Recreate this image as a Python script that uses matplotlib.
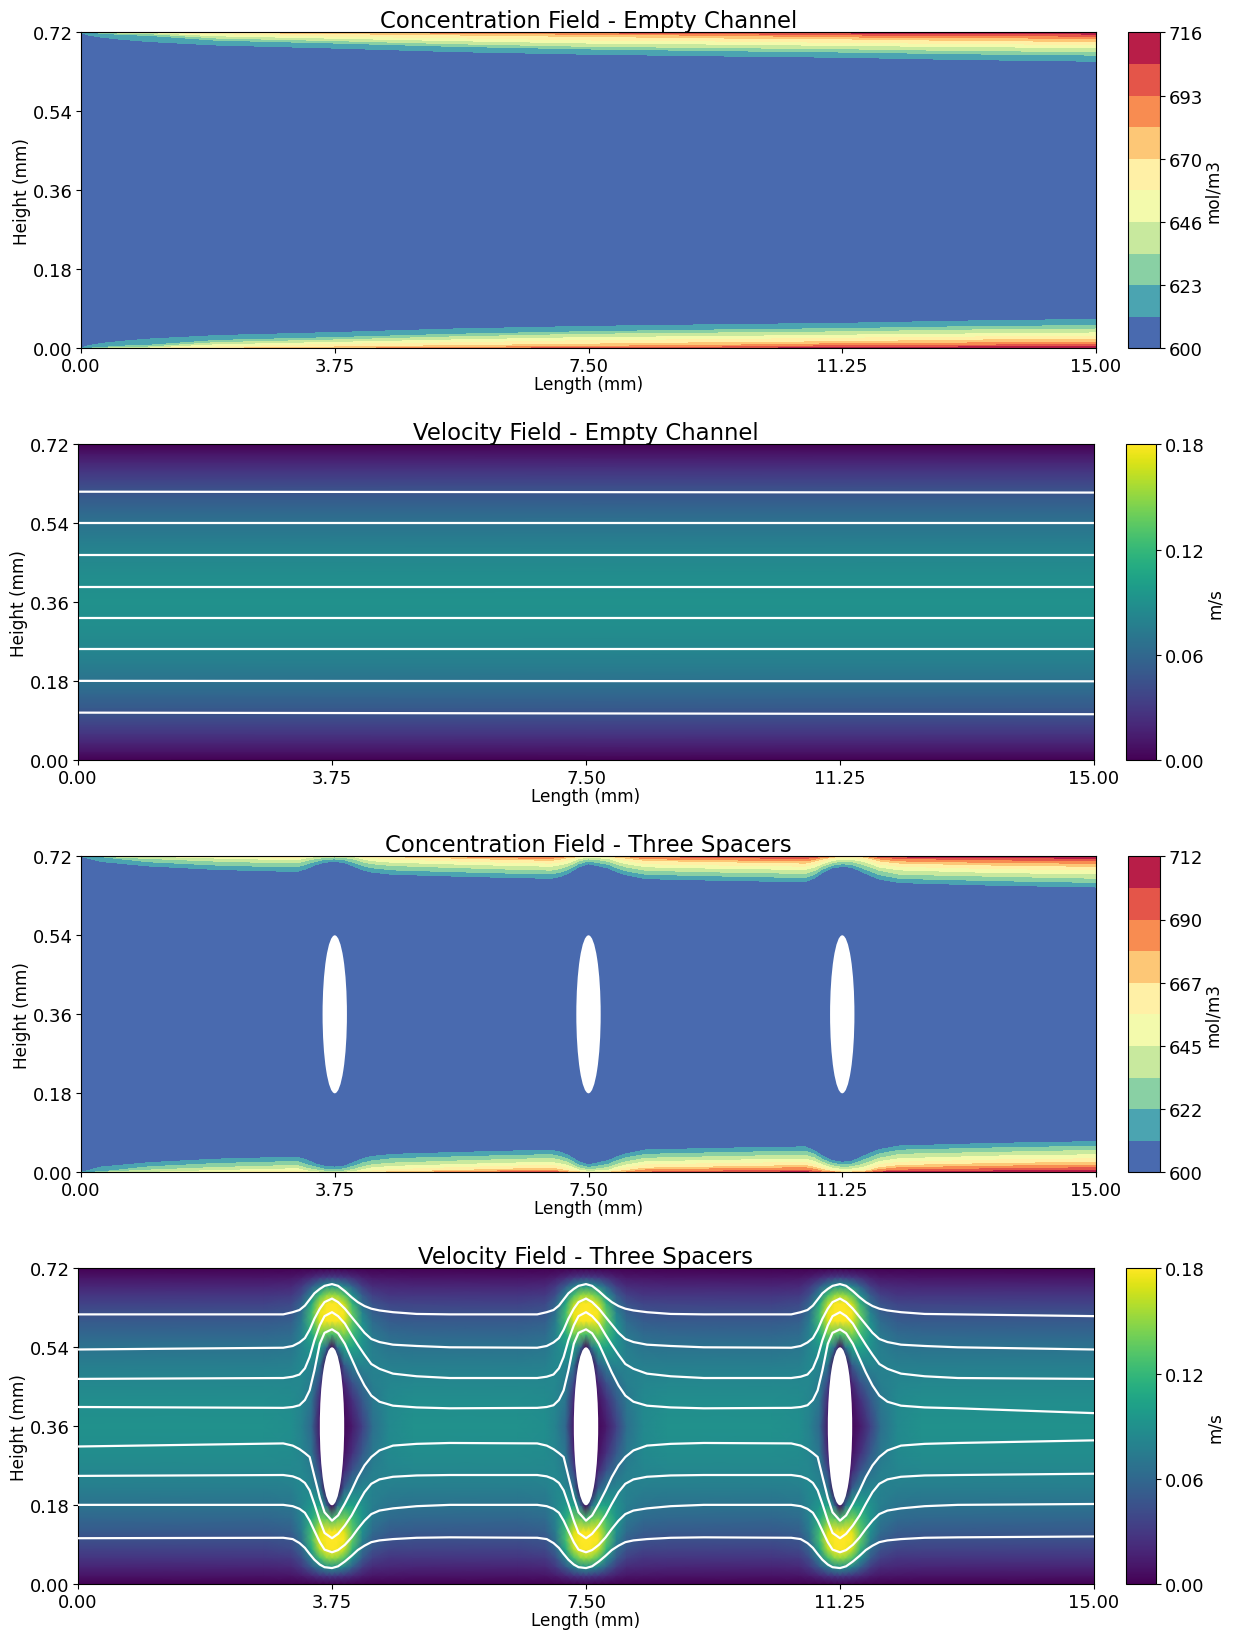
import numpy as np
import matplotlib
matplotlib.use("Agg")
import matplotlib.pyplot as plt
from matplotlib.patches import Ellipse

W, H = 1234, 1633
TICK_FS, LABEL_FS, TITLE_FS = 13, 12.2, 16.4

x_ticks = [0.0, 3.75, 7.5, 11.25, 15.0]
y_ticks = [0.0, 0.18, 0.36, 0.54, 0.72]
spacer_x = [3.75, 7.5, 11.25]
spacer_y = 0.36
spacer_d = 0.36

# Concentration: distance from the wall (mm) where each level is reached
# one list per x station, from the second highest level down to the second lowest
empty_x = [0, 0.1, 0.3, 0.6, 1, 2, 3.75, 5.5, 7.5, 9.5, 11.25, 13, 15]
empty_cmin, empty_cmax = 600, 716
empty_d = [
    [0, 0, 0, 0, 0, 0, 0, 0, 0],
    [0, 0, 0, 0, 0, 0, 0, 0, 0.006],
    [0, 0, 0, 0, 0, 0, 0, 0.002, 0.011],
    [0, 0, 0, 0, 0, 0, 0.002, 0.005, 0.016],
    [0, 0, 0, 0, 0, 0.0005, 0.003, 0.007, 0.021],
    [0, 0, 0, 0, 0.003, 0.008, 0.013, 0.018, 0.029],
    [0, 0, 0, 0.003, 0.009, 0.0135, 0.019, 0.0245, 0.036],
    [0, 0, 0.002, 0.006, 0.0125, 0.019, 0.026, 0.032, 0.044],
    [0, 0.0012, 0.0045, 0.0095, 0.0175, 0.0245, 0.032, 0.038, 0.05],
    [0, 0.003, 0.007, 0.013, 0.02, 0.027, 0.035, 0.042, 0.054],
    [0.0015, 0.006, 0.0105, 0.015, 0.023, 0.03, 0.0375, 0.045, 0.057],
    [0.003, 0.007, 0.012, 0.0185, 0.0255, 0.0325, 0.0415, 0.049, 0.062],
    [0.004, 0.009, 0.014, 0.021, 0.028, 0.035, 0.044, 0.052, 0.066],
]

spacer_cmin, spacer_cmax = 600, 712
spacer_conc_x = [0, 0.3, 1, 2, 3, 3.2, 3.33, 3.45, 3.6, 3.75, 3.9, 4.05, 4.17, 4.3, 4.6,
                 5.5, 6.5, 6.95, 7.08, 7.2, 7.35, 7.5, 7.65, 7.8, 7.92, 8.05, 8.35, 9.5,
                 10.7, 10.83, 10.95, 11.1, 11.25, 11.4, 11.55, 11.67, 11.8, 12.1, 13.5, 15]
spacer_d_cols = [
    [0, 0, 0, 0, 0, 0, 0, 0, 0],
    [0, 0, 0, 0, 0, 0, 0, 0.001, 0.012],
    [0, 0, 0, 0, 0, 0, 0.005, 0.0125, 0.022],
    [0, 0, 0, 0, 0, 0.004, 0.011, 0.02, 0.03],
    [0, 0, 0, 0, 0.002, 0.0075, 0.015, 0.024, 0.034],
    [0, 0, 0, 0, 0.002, 0.008, 0.015, 0.024, 0.034],
    [0, 0, 0, 0, 0.0006, 0.0035, 0.0095, 0.0175, 0.0285],
    [0, 0, 0, 0, 0, 0.001, 0.006, 0.0125, 0.02],
    [0, 0, 0, 0, 0, 0.0002, 0.0025, 0.007, 0.0135],
    [0, 0, 0, 0, 0, 0, 0.0015, 0.006, 0.012],
    [0, 0, 0, 0, 0, 0.0004, 0.003, 0.008, 0.0145],
    [0, 0, 0, 0, 0, 0.0015, 0.007, 0.015, 0.024],
    [0, 0, 0, 0, 0.0018, 0.006, 0.013, 0.0215, 0.0315],
    [0, 0, 0, 0, 0.003, 0.01, 0.017, 0.026, 0.036],
    [0, 0, 0, 0.001, 0.006, 0.0135, 0.021, 0.031, 0.041],
    [0, 0, 0.001, 0.004, 0.0105, 0.0175, 0.0255, 0.035, 0.045],
    [0, 0.001, 0.004, 0.008, 0.0145, 0.0215, 0.03, 0.039, 0.049],
    [0, 0.0015, 0.0045, 0.009, 0.0155, 0.0225, 0.0315, 0.04, 0.05],
    [0, 0.0005, 0.0025, 0.0065, 0.013, 0.0195, 0.028, 0.036, 0.046],
    [0, 0, 0.0005, 0.003, 0.008, 0.015, 0.022, 0.03, 0.039],
    [0, 0, 0, 0.0008, 0.002, 0.0055, 0.0105, 0.017, 0.0245],
    [0, 0, 0, 0, 0, 0.002, 0.006, 0.011, 0.017],
    [0, 0, 0, 0, 0.0005, 0.0035, 0.008, 0.0145, 0.022],
    [0, 0, 0, 0, 0.001, 0.005, 0.0115, 0.0185, 0.027],
    [0, 0, 0, 0.002, 0.006, 0.0115, 0.018, 0.0265, 0.0355],
    [0, 0, 0.0005, 0.004, 0.0095, 0.0165, 0.024, 0.033, 0.042],
    [0, 0.0005, 0.0055, 0.0095, 0.017, 0.024, 0.032, 0.041, 0.051],
    [0, 0.003, 0.008, 0.0125, 0.02, 0.0275, 0.036, 0.045, 0.055],
    [0.001, 0.005, 0.0105, 0.0155, 0.0225, 0.03, 0.039, 0.0485, 0.058],
    [0.0002, 0.0025, 0.007, 0.0115, 0.018, 0.025, 0.033, 0.0415, 0.05],
    [0, 0.0005, 0.003, 0.0065, 0.012, 0.0175, 0.023, 0.03, 0.038],
    [0, 0, 0.001, 0.002, 0.0046, 0.0095, 0.015, 0.0205, 0.0265],
    [0, 0, 0, 0.0005, 0.0025, 0.0065, 0.011, 0.017, 0.023],
    [0, 0, 0, 0.0007, 0.003, 0.0075, 0.0125, 0.019, 0.0255],
    [0, 0, 0, 0.001, 0.005, 0.011, 0.018, 0.027, 0.036],
    [0, 0, 0.002, 0.005, 0.011, 0.017, 0.0245, 0.034, 0.044],
    [0.0005, 0.002, 0.006, 0.0105, 0.0175, 0.0245, 0.032, 0.042, 0.052],
    [0.0015, 0.005, 0.0105, 0.0155, 0.023, 0.031, 0.041, 0.0505, 0.06],
    [0.003, 0.008, 0.014, 0.02, 0.028, 0.037, 0.0455, 0.0555, 0.066],
    [0.0045, 0.0105, 0.016, 0.023, 0.031, 0.04, 0.05, 0.0595, 0.07],
]

# Velocity (m/s) read on the lower half of the channel, upper half is its mirror
vel_y = [0, 0.02, 0.04, 0.06, 0.08, 0.10, 0.12, 0.15, 0.18, 0.22, 0.26, 0.30, 0.36]
vel_far = [0, 0.0098, 0.0189, 0.0275, 0.0356, 0.043, 0.05, 0.0594, 0.0675, 0.0764,
           0.083, 0.0875, 0.09]
vel_dx = [-1.0, -0.6, -0.45, -0.3, -0.18, -0.08, 0, 0.08, 0.18, 0.3, 0.45, 0.6, 0.85, 1.2]
vel_cell = [
    [0] * 14,
    [0.0098, 0.0105, 0.014, 0.02, 0.027, 0.03, 0.032, 0.03, 0.028, 0.022, 0.015, 0.011, 0.010, 0.0098],
    [0.0189, 0.021, 0.03, 0.05, 0.075, 0.09, 0.095, 0.09, 0.08, 0.055, 0.032, 0.022, 0.02, 0.019],
    [0.0275, 0.03, 0.042, 0.08, 0.125, 0.148, 0.152, 0.148, 0.13, 0.088, 0.05, 0.034, 0.028, 0.0275],
    [0.0356, 0.04, 0.057, 0.108, 0.16, 0.178, 0.18, 0.178, 0.165, 0.118, 0.065, 0.045, 0.037, 0.036],
    [0.043, 0.047, 0.066, 0.125, 0.175, 0.18, 0.18, 0.18, 0.178, 0.135, 0.08, 0.054, 0.045, 0.043],
    [0.05, 0.054, 0.074, 0.125, 0.17, 0.178, 0.178, 0.178, 0.172, 0.135, 0.088, 0.062, 0.052, 0.05],
    [0.0594, 0.063, 0.08, 0.11, 0.14, 0.135, 0.125, 0.135, 0.145, 0.125, 0.095, 0.072, 0.062, 0.06],
    [0.0675, 0.071, 0.082, 0.095, 0.105, 0.06, 0.0, 0.065, 0.105, 0.105, 0.09, 0.076, 0.069, 0.0675],
    [0.0764, 0.078, 0.084, 0.082, 0.07, 0, 0, 0, 0.05, 0.075, 0.082, 0.08, 0.077, 0.0765],
    [0.083, 0.083, 0.083, 0.075, 0.04, 0, 0, 0, 0.02, 0.045, 0.065, 0.077, 0.082, 0.083],
    [0.0875, 0.086, 0.082, 0.07, 0.02, 0, 0, 0, 0.008, 0.025, 0.05, 0.072, 0.085, 0.0875],
    [0.09, 0.088, 0.08, 0.06, 0.01, 0, 0, 0, 0.003, 0.012, 0.035, 0.065, 0.085, 0.09],
]

# Streamlines
stream_empty_start = [0.612, 0.540, 0.468, 0.396, 0.324, 0.253, 0.181, 0.1086]
stream_empty_end = [0.610, 0.540, 0.468, 0.396, 0.324, 0.253, 0.180, 0.105]

stream_dx = [-0.72, -0.58, -0.48, -0.40, -0.33, -0.26, -0.18, -0.11, 0, 0.09, 0.19, 0.29,
             0.38, 0.48, 0.58, 0.70, 0.90, 1.25, 1.74]
stream_start = [0.615, 0.535, 0.468, 0.404, 0.314, 0.247, 0.181, 0.105]
stream_end = [0.611, 0.535, 0.468, 0.390, 0.328, 0.252, 0.183, 0.109]
stream_cell = [
    [0.615, 0.620, 0.625, 0.635, 0.649, 0.663, 0.673, 0.680, 0.684, 0.680, 0.668, 0.654, 0.643, 0.634, 0.628, 0.624, 0.620, 0.616, 0.615],
    [0.539, 0.543, 0.551, 0.561, 0.580, 0.605, 0.628, 0.643, 0.651, 0.643, 0.628, 0.609, 0.592, 0.573, 0.559, 0.552, 0.546, 0.543, 0.540],
    [0.470, 0.473, 0.478, 0.492, 0.518, 0.556, 0.590, 0.611, 0.620, 0.611, 0.594, 0.568, 0.546, 0.523, 0.502, 0.491, 0.480, 0.474, 0.470],
    [0.402, 0.404, 0.408, 0.420, 0.442, 0.487, 0.548, 0.573, 0.581, 0.572, 0.548, 0.514, 0.483, 0.453, 0.430, 0.416, 0.407, 0.403, 0.401],
    [0.321, 0.316, 0.308, 0.299, 0.290, 0.246, 0.197, 0.164, 0.145, 0.157, 0.184, 0.214, 0.244, 0.271, 0.290, 0.305, 0.316, 0.320, 0.322],
    [0.249, 0.246, 0.240, 0.231, 0.214, 0.183, 0.145, 0.117, 0.105, 0.115, 0.134, 0.157, 0.183, 0.210, 0.229, 0.239, 0.245, 0.248, 0.249],
    [0.181, 0.178, 0.172, 0.163, 0.145, 0.122, 0.096, 0.079, 0.073, 0.078, 0.090, 0.107, 0.126, 0.145, 0.160, 0.168, 0.173, 0.178, 0.181],
    [0.106, 0.103, 0.094, 0.083, 0.069, 0.056, 0.045, 0.039, 0.037, 0.041, 0.052, 0.065, 0.078, 0.088, 0.096, 0.100, 0.103, 0.106, 0.107],
]


def add_axes_px(fig, left, top, right, bottom):
    return fig.add_axes([left / W, 1 - bottom / H, (right - left) / W, (bottom - top) / H])


def style_axes(ax, title):
    ax.set_xlim(0, 15)
    ax.set_ylim(0, 0.72)
    ax.set_xticks(x_ticks)
    ax.set_yticks(y_ticks)
    ax.set_xticklabels([f"{t:.2f}" for t in x_ticks])
    ax.set_yticklabels([f"{t:.2f}" for t in y_ticks])
    ax.tick_params(labelsize=TICK_FS, pad=2.5)
    ax.set_xlabel("Length (mm)", fontsize=LABEL_FS, labelpad=0.5)
    ax.set_ylabel("Height (mm)", fontsize=LABEL_FS, labelpad=1.5)
    ax.set_title(title, fontsize=TITLE_FS, pad=3.5)


def draw_spacers(ax):
    for sx in spacer_x:
        ax.add_patch(Ellipse((sx, spacer_y), spacer_d, spacer_d, fc="white", ec="none", zorder=5))


def conc_panel(fig, box, cbox, xs, d_cols, cmin, cmax, title, spacers=False):
    ax = add_axes_px(fig, *box)
    levels = np.linspace(cmin, cmax, 11)
    inner = np.array(d_cols, dtype=float).T
    n = len(xs)
    d = np.vstack([np.zeros(n), inner, np.full(n, 0.36)])
    y_grid = np.vstack([d, 0.72 - d[-2::-1]])
    z_levels = np.concatenate([levels[::-1], levels[1:]])
    z_grid = np.repeat(z_levels[:, None], n, axis=1)
    x_grid = np.repeat(np.array(xs, dtype=float)[None, :], len(z_levels), axis=0)
    cf = ax.contourf(x_grid, y_grid, z_grid, levels=levels, cmap="Spectral_r")
    if spacers:
        draw_spacers(ax)
    style_axes(ax, title)
    cax = add_axes_px(fig, *cbox)
    cb = fig.colorbar(cf, cax=cax, ticks=levels[::2])
    cb.ax.set_yticklabels([f"{v:.0f}" for v in levels[::2]])
    cb.ax.tick_params(labelsize=TICK_FS, pad=2.5)
    cb.set_label("mol/m3", fontsize=LABEL_FS, labelpad=1)


def vel_colorbar(fig, mesh, cbox):
    cax = add_axes_px(fig, *cbox)
    ticks = [0.0, 0.06, 0.12, 0.18]
    cb = fig.colorbar(mesh, cax=cax, ticks=ticks)
    cb.ax.set_yticklabels([f"{v:.2f}" for v in ticks])
    cb.ax.tick_params(labelsize=TICK_FS, pad=2.5)
    cb.set_label("m/s", fontsize=LABEL_FS, labelpad=1)


y_half = np.array(vel_y, dtype=float)
y_full = np.concatenate([y_half, 0.72 - y_half[-2::-1]])

fig = plt.figure(figsize=(W / 100, H / 100), dpi=100)

# Concentration, empty channel
conc_panel(fig, (81, 33.3, 1096, 349.3), (1128, 33.3, 1160, 349.3), empty_x,
           empty_d, empty_cmin, empty_cmax, "Concentration Field - Empty Channel")

# Velocity, empty channel
ax = add_axes_px(fig, 78, 445.3, 1094, 761.3)
far = np.array(vel_far)
far_full = np.concatenate([far, far[-2::-1]])
mesh = ax.pcolormesh([0, 15], y_full, np.column_stack([far_full, far_full]),
                     shading="gouraud", cmap="viridis", vmin=0, vmax=0.18)
for y0, y1 in zip(stream_empty_start, stream_empty_end):
    ax.plot([0, 15], [y0, y1], color="white", lw=1.6)
style_axes(ax, "Velocity Field - Empty Channel")
vel_colorbar(fig, mesh, (1125.5, 445.3, 1156.5, 761.3))

# Concentration, three spacers
conc_panel(fig, (81, 857.3, 1096, 1173.3), (1128, 857.3, 1160, 1173.3), spacer_conc_x,
           spacer_d_cols, spacer_cmin, spacer_cmax,
           "Concentration Field - Three Spacers", spacers=True)

# Velocity, three spacers
ax = add_axes_px(fig, 78, 1269.3, 1094, 1585.3)
cell = np.array(vel_cell, dtype=float)
cell_full = np.vstack([cell, cell[-2::-1]])
vel_xs = [0.0]
vel_cols = [far_full[:, None]]
for sx in spacer_x:
    vel_xs += [sx + dx for dx in vel_dx]
    vel_cols.append(cell_full)
vel_xs.append(15.0)
vel_cols.append(far_full[:, None])
mesh = ax.pcolormesh(vel_xs, y_full, np.hstack(vel_cols), shading="gouraud",
                     cmap="viridis", vmin=0, vmax=0.18)
for k, row in enumerate(stream_cell):
    xs, ys = [0.0], [stream_start[k]]
    for sx in spacer_x:
        xs += [sx + dx for dx in stream_dx]
        ys += row
    xs.append(15.0)
    ys.append(stream_end[k])
    ax.plot(xs, ys, color="white", lw=1.6, solid_joinstyle="round", zorder=4)
draw_spacers(ax)
style_axes(ax, "Velocity Field - Three Spacers")
vel_colorbar(fig, mesh, (1125.5, 1269.3, 1156.5, 1585.3))

fig.savefig("out.png", dpi=100)
